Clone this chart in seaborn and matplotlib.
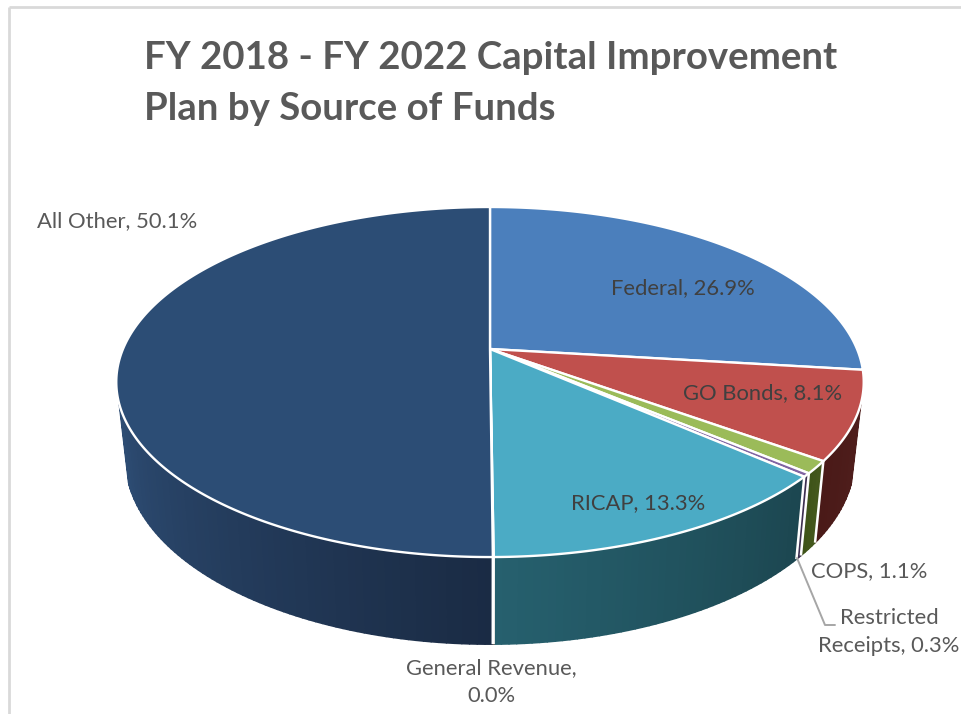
import numpy as np
import matplotlib
matplotlib.use("Agg")
import matplotlib.pyplot as plt
from matplotlib.collections import PolyCollection
from matplotlib.patches import Polygon
import seaborn as sns

# Capital plan shares, clockwise from twelve o'clock
sources = ["Federal", "GO Bonds", "COPS", "Restricted Receipts", "RICAP", "General Revenue", "All Other"]
shares = [26.92, 8.13, 1.14, 0.33, 13.35, 0.03, 50.10]
top_colors = ["#4b7fbc", "#c0504d", "#9bbb59", "#8064a2", "#4babc5", "#f79646", "#2c4d75"]
wall_near = ["#2f4d70", "#4f1e1c", "#45581e", "#3d2f50", "#1c4650", "#7a4a20", "#1a2b44"]
wall_far = ["#2f4d70", "#4a1a18", "#3f5419", "#3d2f50", "#26606e", "#7a4a20", "#2d4c73"]
title_lines = ["FY 2018 - FY 2022 Capital Improvement", "Plan by Source of Funds"]

sns.set_theme(style="white")
plt.rcParams["font.family"] = ["Lato", "DejaVu Sans"]

fig = plt.figure(figsize=(9.61, 7.14), dpi=100, facecolor="white")
ax = fig.add_axes([0, 0, 1, 1])
ax.set_xlim(0, 961)
ax.set_ylim(714, 0)
ax.axis("off")

# Perspective disc: lid and floor share an angle parameter
CX, CY = 490.0, 349.0
RX, RY, TILT = 367.0, 168.8, 0.1887
FLOOR_Y, FLOOR_SX, FLOOR_SY = 424.0, 0.975, 1.058
WALL_FROM, WALL_TO = np.radians(108), np.radians(252)


def lid(theta):
    s, c = np.sin(theta), np.cos(theta)
    d = 1 + TILT * c
    return CX + RX * s / d, CY - RY * c / d


def floor(theta):
    s, c = np.sin(theta), np.cos(theta)
    d = 1 + TILT * c
    return CX + FLOOR_SX * RX * s / d, FLOOR_Y - FLOOR_SY * RY * c / d


edges = np.cumsum([0] + shares) / 100 * 2 * np.pi


def mix(a, b, t):
    a, b = np.array(matplotlib.colors.to_rgb(a)), np.array(matplotlib.colors.to_rgb(b))
    return tuple(a + (b - a) * t)


# Side walls, only on the arc that faces the viewer
for i in range(len(shares)):
    a0, a1 = max(edges[i], WALL_FROM), min(edges[i + 1], WALL_TO)
    if a1 <= a0:
        continue
    steps = max(2, int(np.degrees(a1 - a0)))
    grid = np.linspace(a0, a1, steps + 1)
    quads, fills = [], []
    for j in range(steps):
        x0, y0 = lid(grid[j])
        x1, y1 = lid(grid[j + 1])
        x2, y2 = floor(grid[j + 1])
        x3, y3 = floor(grid[j])
        quads.append([(x0, y0), (x1, y1), (x2, y2), (x3, y3)])
        fills.append(mix(wall_near[i], wall_far[i], j / max(1, steps - 1)))
    ax.add_collection(PolyCollection(quads, facecolors=fills, edgecolors=fills, linewidths=1.2, zorder=2))

# White seams between neighbouring walls
for i in range(2, len(shares)):
    t = edges[i]
    x0, y0 = lid(t)
    x1, y1 = floor(t)
    ax.plot([x0, x1], [y0, y1], color="white", lw=1.8, zorder=3, solid_capstyle="butt")

# Lid wedges
for i, color in enumerate(top_colors):
    grid = np.linspace(edges[i], edges[i + 1], max(3, int(np.degrees(edges[i + 1] - edges[i])) * 2))
    px, py = lid(grid)
    pts = np.column_stack([np.r_[CX, px], np.r_[CY, py]])
    ax.add_patch(Polygon(pts, closed=True, facecolor=color, edgecolor="white", lw=1.7, joinstyle="round", zorder=4))

# Leader line for the thinnest visible slice
ax.plot([797, 825, 835], [558, 625, 625], color="#a6a6a6", lw=1.4, zorder=5)

# Chart frame
ax.plot([9, 9], [714, 7], color="#d9d9d9", lw=2, zorder=1, solid_capstyle="butt")
ax.plot([9, 961], [7, 7], color="#d9d9d9", lw=2, zorder=1, solid_capstyle="butt")

for k, line in enumerate(title_lines):
    ax.text(144, [69, 120][k], line, fontsize=27.6, fontweight="bold", color="#595959", ha="left", va="baseline", zorder=6)


def tag(name, value):
    return f"{name}, {value:.1f}%"


label_style = dict(fontsize=15.8, color="#595959", zorder=6, linespacing=1.5, ha="center", va="center")
inner_style = {**label_style, "color": "#404040"}
ax.text(683, 288, tag(sources[0], shares[0]), **inner_style)
ax.text(763, 393, tag(sources[1], shares[1]), **inner_style)
ax.text(638, 503, tag(sources[4], shares[4]), **inner_style)
ax.text(117, 221, tag(sources[6], shares[6]), **label_style)
ax.text(869, 571, tag(sources[2], shares[2]), **label_style)
ax.text(889, 632, f"Restricted\nReceipts, {shares[3]:.1f}%", **label_style)
ax.text(491, 682, f"General Revenue,\n{shares[5]:.1f}%", **label_style)

fig.savefig("out.png", dpi=100, facecolor="white")
